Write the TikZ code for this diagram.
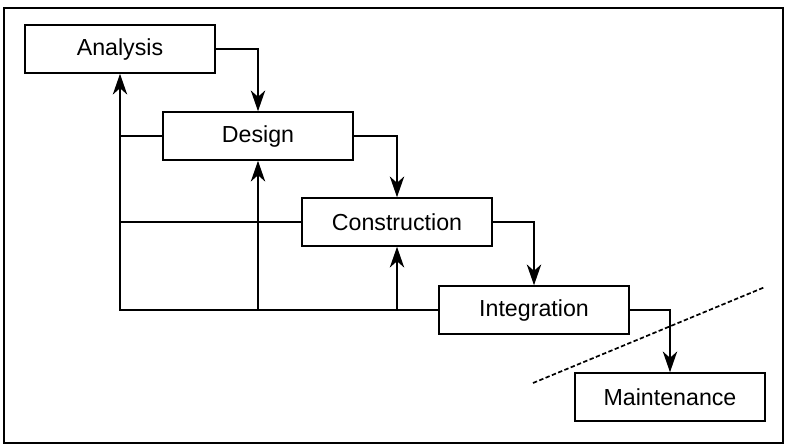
\documentclass[tikz,border=0pt]{standalone}
\usepackage{fontspec}
\setmainfont{Liberation Sans}
\usepackage{tikz}
\usetikzlibrary{arrows.meta,positioning}
\tikzset{phase/.style={rectangle,draw=black,fill=white,line width=1.1pt,
 minimum width=47.5mm,minimum height=12mm,inner sep=1pt,text=black,
 font=\fontsize{16.5}{19}\selectfont},
 flow/.style={draw=black,line width=1pt,-{Stealth[length=5.2mm,width=3.6mm,inset=1.6mm]}},
 link/.style={draw=black,line width=1pt},
 cut/.style={draw=black,line width=1.2pt,dash pattern=on 1.1mm off .6mm},
 frame/.style={draw=black,line width=1.4pt}}

\begin{document}
\begin{tikzpicture}[x=.25mm,y=-.25mm]
 \useasboundingbox (0,0) rectangle (785,446);
 \draw[frame] (4,8) rectangle (783,443);
 % phases
 \node[phase] (ana) at (120,49) {Analysis};
 \node[phase] (des) at (258,136) {Design};
 \node[phase] (con) at (397,222) {Construction};
 \node[phase] (int) at (534,310) {Integration};
 \node[phase] (mai) at (670,397) {Maintenance};
 % forward steps
 \draw[flow] (ana.east) -| (des.north);
 \draw[flow] (des.east) -| (con.north);
 \draw[flow] (con.east) -| (int.north);
 \draw[flow] (int.east) -| (mai.north);
 % feedback
 \draw[flow] (int.west) -| (ana.south);
 \draw[link] (des.west) -- (des.west -| ana.south);
 \draw[link] (con.west) -- (con.west -| ana.south);
 \draw[flow] (des.south |- int.west) -- (des.south);
 \draw[flow] (con.south |- int.west) -- (con.south);
 % boundary
 \coordinate (cutA) at (533,383);
 \coordinate (cutB) at (765,287);
 \draw[cut] (cutA) -- (cutB);
\end{tikzpicture}
\end{document}
